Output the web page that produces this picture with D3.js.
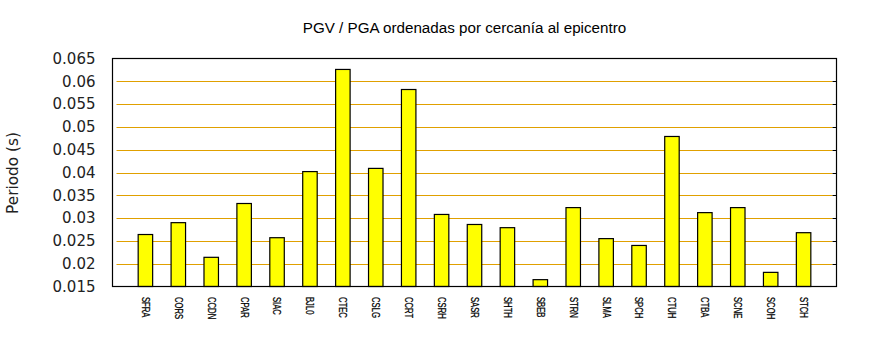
<!DOCTYPE html>
<html><head><meta charset="utf-8">
<script src="https://cdn.jsdelivr.net/npm/d3@7"></script>
<style>body{margin:0;background:#fff}</style>
</head><body>
<script>
const categories = ["SFRA","CORS","CCDN","CPAR","SIAC","BJL0","CTEC","CSLG","CCRT","CSRH","SASR","SHTH","SBEB","STRN","SLMA","SPCH","CTUH","CTBA","SCNE","SCOH","STCH"];
const values = [0.0264,0.0290,0.0214,0.0332,0.0257,0.0402,0.0626,0.0409,0.0582,0.0308,0.0286,0.0279,0.0165,0.0323,0.0255,0.0240,0.0479,0.0312,0.0323,0.0181,0.0268];
const yTicks = [0.015,0.02,0.025,0.03,0.035,0.04,0.045,0.05,0.055,0.06,0.065];
const yTickLabels = ["0.015","0.02","0.025","0.03","0.035","0.04","0.045","0.05","0.055","0.06","0.065"];
const title = "PGV / PGA ordenadas por cercanía al epicentro";
const yLabel = "Periodo (s)";

const W = 870, H = 350;
const L = 112.5, R = 836.5, T = 58.5, B = 286.5;
const svg = d3.select("body").append("svg").attr("width", W).attr("height", H);

const x = d3.scaleLinear().domain([0, categories.length + 1]).range([L, R]);
const y = d3.scaleLinear().domain([0.015, 0.065]).range([B, T]);
const bw = x(0.44) - x(0);

// gridlines
svg.append("g").selectAll("line").data(yTicks.slice(1, -1)).join("line")
  .attr("x1", L + 4).attr("x2", R - 4)
  .attr("y1", d => Math.round(y(d)) + 0.5).attr("y2", d => Math.round(y(d)) + 0.5)
  .attr("stroke", "#e0a000").attr("stroke-width", 1);
// right ticks
svg.append("g").selectAll("line").data(yTicks.slice(1, -1)).join("line")
  .attr("x1", R - 4).attr("x2", R)
  .attr("y1", d => Math.round(y(d)) + 0.5).attr("y2", d => Math.round(y(d)) + 0.5)
  .attr("stroke", "#000").attr("stroke-width", 1);

// bars
svg.append("g").selectAll("rect").data(values).join("rect")
  .attr("x", (d, i) => x(i + 1) - bw / 2)
  .attr("width", bw)
  .attr("y", d => y(d))
  .attr("height", d => y(0.015) - y(d))
  .attr("fill", "#ffff00").attr("stroke", "#000").attr("stroke-width", 1.2);

// frame
svg.append("rect").attr("x", L).attr("y", T).attr("width", R - L).attr("height", B - T)
  .attr("fill", "none").attr("stroke", "#000").attr("stroke-width", 1.2);

// y tick labels
const yAxis = d3.axisLeft(y).tickValues(yTicks).tickFormat((d, i) => yTickLabels[i]).tickSize(0).tickPadding(17);
const ga = svg.append("g").attr("transform", `translate(${L},0)`).call(yAxis);
ga.select(".domain").remove();
ga.selectAll("text").attr("font-family", "DejaVu Sans").attr("font-size", 15).attr("fill", "#222");

// x labels
svg.append("g").selectAll("text").data(categories).join("text")
  .attr("transform", (d, i) => `translate(${x(i + 1) - 3.6},${B + 10.5}) rotate(90) scale(0.74,1)`)
  .attr("font-family", "Liberation Sans, Arial, sans-serif").attr("font-size", 10.4)
  .attr("fill", "#000").attr("stroke", "#000").attr("stroke-width", 0.25)
  .text(d => d);

// title
svg.append("text").attr("x", 464.5).attr("y", 33.3).attr("text-anchor", "middle")
  .attr("font-family", "Liberation Sans, Arial, sans-serif").attr("font-size", 15.2).attr("fill", "#000")
  .text(title);

// y label
svg.append("text").attr("transform", "translate(17.5,173) rotate(-90)").attr("text-anchor", "middle")
  .attr("font-family", "DejaVu Sans").attr("font-size", 15.3).attr("fill", "#222")
  .text(yLabel);
</script>
</body></html>
